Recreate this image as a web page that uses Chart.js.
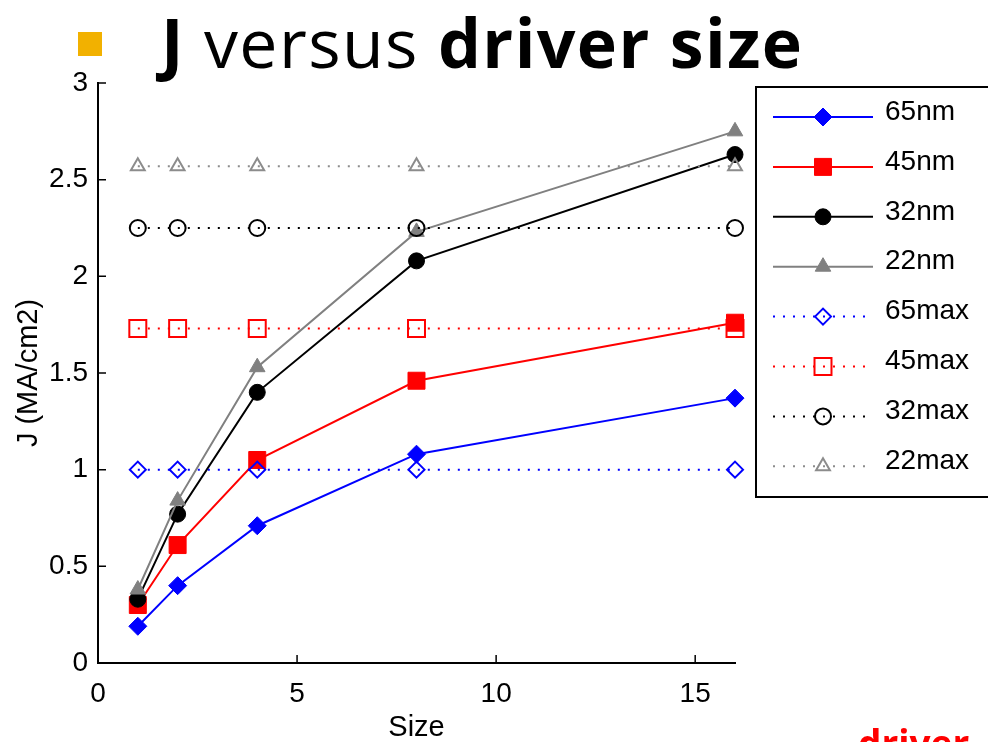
<!DOCTYPE html>
<html>
<head>
<meta charset="utf-8">
<script src="https://cdn.jsdelivr.net/npm/chart.js"></script>
<style>
  html, body { margin: 0; padding: 0; background: #fff; overflow: hidden; }
  #wrap { position: relative; width: 988px; height: 742px; overflow: hidden; }
  #chart { position: absolute; left: 0; top: 0; }
  .bullet { position: absolute; left: 78px; top: 32px; width: 24px; height: 24px; background: #f2b100; }
  .title { position: absolute; left: 161px; top: 8px; font-family: "Open Sans", sans-serif; font-size: 68px; line-height: 68px; letter-spacing: 1.4px; color: #000; white-space: nowrap; }
  .title b { font-weight: 700; }
  .foot { position: absolute; left: 858px; top: 724px; font-family: "Open Sans", sans-serif; font-weight: 700; font-size: 37px; line-height: 37px; color: #ff0000; }
</style>
</head>
<body>
<div id="wrap">
  <canvas id="chart" width="988" height="742"></canvas>
  <div class="bullet"></div>
  <div class="title"><b>J</b> versus <b>driver size</b></div>
  <div class="foot">driver</div>
</div>
<script>
// driver sizes (x) and current density J (MA/cm2)
const sizes = [1, 2, 4, 8, 16];
const j65 = [0.19, 0.40, 0.71, 1.08, 1.37];
const j45 = [0.30, 0.61, 1.05, 1.46, 1.76];
const j32 = [0.33, 0.77, 1.40, 2.08, 2.63];
const j22 = [0.38, 0.84, 1.53, 2.23, 2.75];
const max65 = [1.00, 1.00, 1.00, 1.00, 1.00];
const max45 = [1.73, 1.73, 1.73, 1.73, 1.73];
const max32 = [2.25, 2.25, 2.25, 2.25, 2.25];
const max22 = [2.57, 2.57, 2.57, 2.57, 2.57];
const labels = ['65nm', '45nm', '32nm', '22nm', '65max', '45max', '32max', '22max'];
const xTicks = [0, 5, 10, 15];
const yTicks = [0, 0.5, 1, 1.5, 2, 2.5, 3];

const FONT = '"Liberation Sans", Arial, sans-serif';
const toPts = vals => vals.map((v, i) => ({ x: sizes[i], y: v }));

function solid(label, vals, color, style, r) {
  return {
    label, data: toPts(vals),
    borderColor: color, borderWidth: 2, backgroundColor: color,
    pointStyle: style, pointRadius: r,
    pointBackgroundColor: color, pointBorderColor: color, pointBorderWidth: 1,
    tension: 0, clip: false
  };
}
function dotted(label, vals, color, style, r) {
  return {
    label, data: toPts(vals),
    borderColor: color, borderWidth: 2, borderDash: [2, 8], backgroundColor: 'rgba(0,0,0,0)',
    pointStyle: style, pointRadius: r,
    pointBackgroundColor: 'rgba(0,0,0,0)', pointBorderColor: color, pointBorderWidth: 2,
    tension: 0, clip: false
  };
}

const datasets = [
  solid(labels[0], j65, '#0000ff', 'rectRot', 9),
  solid(labels[1], j45, '#ff0000', 'rect', 12),
  solid(labels[2], j32, '#000000', 'circle', 8),
  solid(labels[3], j22, '#808080', 'triangle', 9),
  dotted(labels[4], max65, '#0000ff', 'rectRot', 8),
  dotted(labels[5], max45, '#ff0000', 'rect', 12),
  dotted(labels[6], max32, '#000000', 'circle', 8),
  dotted(labels[7], max22, '#8c8c8c', 'triangle', 8)
];
// later series on top, like the original plot
datasets.forEach((d, i) => { d.order = datasets.length - i; });

// legend box with line + marker samples
const legendBox = {
  id: 'legendBox',
  afterDraw(chart) {
    const ctx = chart.ctx;
    ctx.save();
    ctx.strokeStyle = '#000';
    ctx.lineWidth = 2;
    ctx.strokeRect(756, 87, 240, 410);
    chart.data.datasets.forEach((ds, i) => {
      const y = 117 + i * 49.9;
      ctx.beginPath();
      ctx.setLineDash(ds.borderDash || []);
      ctx.strokeStyle = ds.borderColor;
      ctx.lineWidth = ds.borderWidth;
      ctx.moveTo(773, y);
      ctx.lineTo(ds.borderDash ? 866 : 873, y);
      ctx.stroke();
      ctx.setLineDash([]);
      ctx.fillStyle = ds.pointBackgroundColor;
      ctx.strokeStyle = ds.pointBorderColor;
      ctx.lineWidth = ds.pointBorderWidth;
      Chart.helpers.drawPoint(ctx, {
        pointStyle: ds.pointStyle, radius: ds.pointRadius, rotation: 0, borderWidth: ds.pointBorderWidth
      }, 823, y);
      ctx.fillStyle = '#000';
      ctx.font = '28px ' + FONT;
      ctx.textBaseline = 'middle';
      ctx.textAlign = 'left';
      ctx.fillText(ds.label, 885, y - 5);
    });
    ctx.restore();
  }
};

// matlab style ticks pointing into the plot
const innerTicks = {
  id: 'innerTicks',
  afterDraw(chart) {
    const { ctx, chartArea } = chart;
    const xs = chart.scales.x, ys = chart.scales.y;
    ctx.save();
    ctx.strokeStyle = '#000';
    ctx.lineWidth = 1.5;
    ctx.beginPath();
    yTicks.forEach(v => {
      const py = ys.getPixelForValue(v);
      ctx.moveTo(chartArea.left, py);
      ctx.lineTo(chartArea.left + 8, py);
    });
    xTicks.forEach(v => {
      const px = xs.getPixelForValue(v);
      ctx.moveTo(px, chartArea.bottom);
      ctx.lineTo(px, chartArea.bottom - 8);
    });
    ctx.stroke();
    ctx.restore();
  }
};

new Chart(document.getElementById('chart'), {
  type: 'line',
  data: { datasets },
  options: {
    responsive: false,
    animation: false,
    devicePixelRatio: 1,
    layout: { padding: { top: 83, right: 253, bottom: 0, left: 0 } },
    plugins: { legend: { display: false }, tooltip: { enabled: false } },
    scales: {
      x: {
        type: 'linear', min: 0, max: 16,
        afterBuildTicks: s => { s.ticks = xTicks.map(v => ({ value: v })); },
        afterFit: s => { s.height = 79; },
        grid: { display: false, drawTicks: false },
        border: { display: true, color: '#000', width: 2 },
        ticks: { color: '#000', padding: 14, font: { family: FONT, size: 28 }, callback: v => String(v) },
        title: { display: true, text: 'Size', color: '#000', padding: 0, font: { family: FONT, size: 29, lineHeight: 1 } }
      },
      y: {
        type: 'linear', min: 0, max: 3,
        afterBuildTicks: s => { s.ticks = yTicks.map(v => ({ value: v })); },
        afterFit: s => { s.width = 98; },
        grid: { display: false, drawTicks: false },
        border: { display: true, color: '#000', width: 2 },
        ticks: { color: '#000', padding: 10, font: { family: FONT, size: 28 }, callback: v => String(v) },
        title: { display: true, text: 'J (MA/cm2)', color: '#000', padding: { top: 12, bottom: 0 }, font: { family: FONT, size: 29, lineHeight: 1.2 } }
      }
    }
  },
  plugins: [legendBox, innerTicks]
});
</script>
</body>
</html>
